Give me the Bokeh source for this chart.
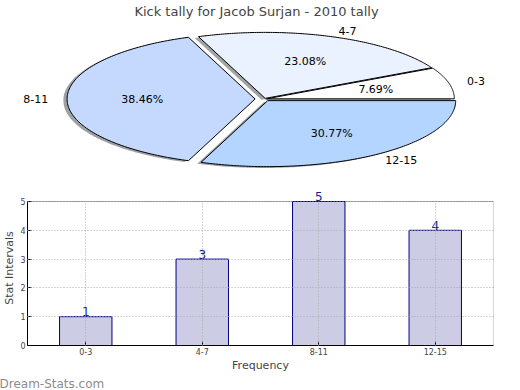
import numpy as np
from bokeh.plotting import figure
from bokeh.models import Range1d, FactorRange, ColumnDataSource, Title, BoxAnnotation
from bokeh.embed import file_html
from bokeh.resources import INLINE
from bokeh.core.properties import value

# ---------------- data ----------------
categories = ["0-3", "4-7", "8-11", "12-15"]
counts = [1, 3, 5, 4]
pie_colors = ["#ffffff", "#eaf1ff", "#c5d9ff", "#b4d5ff"]
explode = [0.01, 0.01, 0.05, 0.03]
y_ticks = [0, 1, 2, 3, 4, 5]
title_text = "Kick tally for Jacob Surjan - 2010 tally"
x_label = "Frequency"
y_label = "Stat Intervals"
watermark = "Dream-Stats.com"

FONT = "DejaVu Sans"

# ---------------- pie ----------------
total = float(sum(counts))
fracs = [c / total for c in counts]
cum = np.concatenate([[0.0], np.cumsum(fracs)])
starts = cum[:-1] * 2 * np.pi
ends = cum[1:] * 2 * np.pi

PX, PY = 188.0, 66.0          # pixels per unit radius (x, y)
FW, FH = 512, 171             # pie frame size
cx_f = 264.0                  # centre x in frame px
cy_f = 79.5                   # centre y in frame px (from top)

p1 = figure(frame_width=FW, frame_height=FH, output_backend="svg", toolbar_location=None,
            x_range=Range1d(-cx_f / PX, (FW - cx_f) / PX),
            y_range=Range1d(-(FH - cy_f) / PY, cy_f / PY),
            x_axis_location=None, y_axis_location=None,
            min_border=0, min_border_left=0, min_border_right=0,
            min_border_top=0, min_border_bottom=0, title=title_text)
p1.grid.visible = False
p1.outline_line_color = None
p1.title.text_font = FONT
p1.title.text_font_size = "13px"
p1.title.text_font_style = "normal"
p1.title.align = "center"
p1.title.standoff = 2
p1.title.offset = 0

wx, wy, sx, sy, shade = [], [], [], [], []
lx, ly, lal, px_, py_, ptxt = [], [], [], [], [], []
for i in range(len(counts)):
    mid = 0.5 * (starts[i] + ends[i])
    ox, oy = explode[i] * np.cos(mid), explode[i] * np.sin(mid)
    t = np.linspace(starts[i], ends[i], 120)
    xs = np.concatenate([[ox], ox + np.cos(t), [ox]])
    ys = np.concatenate([[oy], oy + np.sin(t), [oy]])
    wx.append(list(xs)); wy.append(list(ys))
    sx.append(list(xs - 0.02)); sy.append(list(ys - 0.02))
    c = pie_colors[i]
    r, g, b = int(c[1:3], 16), int(c[3:5], 16), int(c[5:7], 16)
    shade.append("#%02x%02x%02x" % (int(r * 0.3), int(g * 0.3), int(b * 0.3)))
    lx.append(ox + 1.1 * np.cos(mid)); ly.append(oy + 1.1 * np.sin(mid))
    lal.append("left" if np.cos(mid) > 0 else "right")
    px_.append(ox + 0.6 * np.cos(mid)); py_.append(oy + 0.6 * np.sin(mid))
    ptxt.append("%.2f%%" % (100 * fracs[i]))

p1.patches(sx, sy, fill_color=shade, fill_alpha=0.5, line_color=None)
p1.patches(wx, wy, fill_color=pie_colors, line_color="#000000", line_width=1)
lsrc = ColumnDataSource(dict(x=lx, y=ly, t=categories, a=lal))
p1.text(x="x", y="y", text="t", text_align="a", text_baseline="middle",
        text_font=value(FONT), text_font_size="11px", text_color="#000000", source=lsrc)
psrc = ColumnDataSource(dict(x=px_, y=py_, t=ptxt))
p1.text(x="x", y="y", text="t", text_align="center", text_baseline="middle",
        text_font=value(FONT), text_font_size="11px", text_color="#000000", source=psrc)

# ---------------- bars ----------------
HF = 155                      # bar frame height (px)
HEAD = 11                     # px of headroom above the top-tick box edge for value labels
y_top = max(y_ticks)
y_end = y_top + HEAD * y_top / float(HF - HEAD)

bsrc = ColumnDataSource(dict(cat=categories, count=counts, lab=[str(c) for c in counts]))
p2 = figure(x_range=FactorRange(factors=categories, range_padding=0),
            y_range=Range1d(0, y_end), frame_height=HF, width=512,
            output_backend="svg", toolbar_location=None,
            min_border_left=25, min_border_right=19, min_border_top=0, min_border_bottom=0)
p2.vbar(x="cat", top="count", width=0.45, fill_color="#ccccE5", line_color="#000080",
        line_width=1, source=bsrc)
p2.text(x="cat", y="count", text="lab", text_align="center", text_baseline="middle",
        y_offset=-5, text_color="#1a1a99", text_font=value(FONT), text_font_size="12px",
        source=bsrc)
p2.yaxis.ticker = y_ticks
p2.yaxis.bounds = (0, y_top)
for ax in (p2.xaxis, p2.yaxis):
    ax.major_label_text_font = FONT
    ax.major_label_text_font_size = "8px"
    ax.axis_label_text_font = FONT
    ax.axis_label_text_font_size = "11px"
    ax.axis_label_text_font_style = "normal"
    ax.major_tick_in = 4
    ax.major_tick_out = 0
    ax.minor_tick_line_color = None
    ax.axis_line_color = "#000000"
    ax.major_tick_line_color = "#000000"
    ax.major_label_standoff = 2
    ax.axis_label_standoff = 1
p2.xaxis.axis_label = x_label
p2.yaxis.axis_label = y_label
for g in p2.xgrid + p2.ygrid:
    g.grid_line_dash = "1 2"
    g.grid_line_color = "#aaaaaa"
    g.level = "overlay"
for g in p2.xgrid:
    if "cross_bounds" in g.properties():
        g.cross_bounds = (0, y_top)
p2.outline_line_color = None
# plot box from 0 to the top tick
p2.add_layout(BoxAnnotation(left=0, right=len(categories), bottom=0, top=y_top,
                            fill_alpha=0, line_color="#000000", line_width=1, level="overlay"))

wm = Title(text=watermark, align="left", offset=-28, standoff=0, text_font=FONT,
           text_font_size="12px", text_font_style="normal", text_color="#8c8c8c")
p2.add_layout(wm, "below")

open("out.html", "w").write(file_html([p1, p2], INLINE))
